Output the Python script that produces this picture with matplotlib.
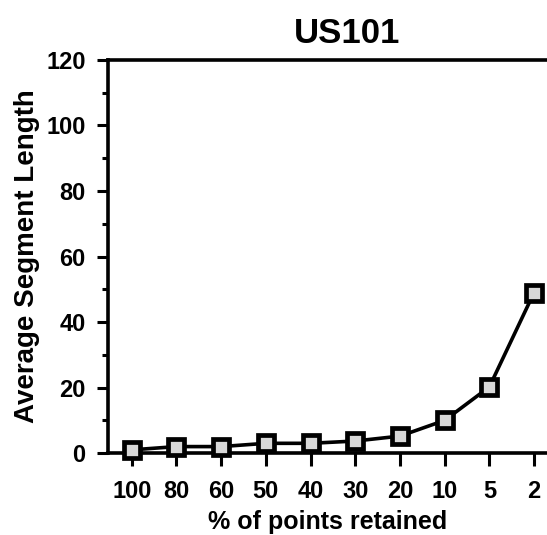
import matplotlib.pyplot as plt
from matplotlib.ticker import MultipleLocator

plt.rcParams['font.family'] = ['Liberation Sans', 'DejaVu Sans']

# data
pct_labels = ["100", "80", "60", "50", "40", "30", "20", "10", "5", "2"]
avg_seg_len = [1.0, 2.0, 2.0, 3.0, 3.0, 3.7, 5.2, 10.0, 20.2, 49.0]

fig = plt.figure(figsize=(5.47, 5.35), dpi=100)
ax = fig.add_axes([0.197, 0.153, 0.803, 0.735])

x = list(range(len(pct_labels)))
ax.plot(x, avg_seg_len, color="black", lw=2.6, marker="s", ms=11,
        mfc="#d8d8d8", mec="black", mew=3.4, clip_on=False, zorder=3)

ax.set_xlim(-0.537, 9.29)
ax.set_ylim(0, 120)
ax.set_xticks(x)
ax.set_xticklabels(pct_labels)
ax.yaxis.set_major_locator(MultipleLocator(20))
ax.yaxis.set_minor_locator(MultipleLocator(10))

for side in ["left", "bottom", "top"]:
    ax.spines[side].set_linewidth(2.6)
ax.spines["right"].set_visible(False)

ax.tick_params(axis="y", which="major", direction="out", length=8, width=2.2,
               labelsize=17, pad=8)
ax.tick_params(axis="y", which="minor", direction="out", length=4, width=2.2)
ax.tick_params(axis="x", direction="out", length=9, width=2.2, labelsize=17, pad=10)
for lbl in ax.get_xticklabels() + ax.get_yticklabels():
    lbl.set_fontweight("bold")

ax.set_xlabel("% of points retained", fontsize=18, fontweight="bold")
ax.xaxis.set_label_coords(0.5, -0.145)
ax.set_ylabel("Average Segment Length", fontsize=20, fontweight="bold")
ax.yaxis.set_label_coords(-0.155, 0.5)
ax.set_title("US101", fontsize=25, fontweight="bold", pad=12, x=0.545)

fig.savefig("out.png", dpi=100)
